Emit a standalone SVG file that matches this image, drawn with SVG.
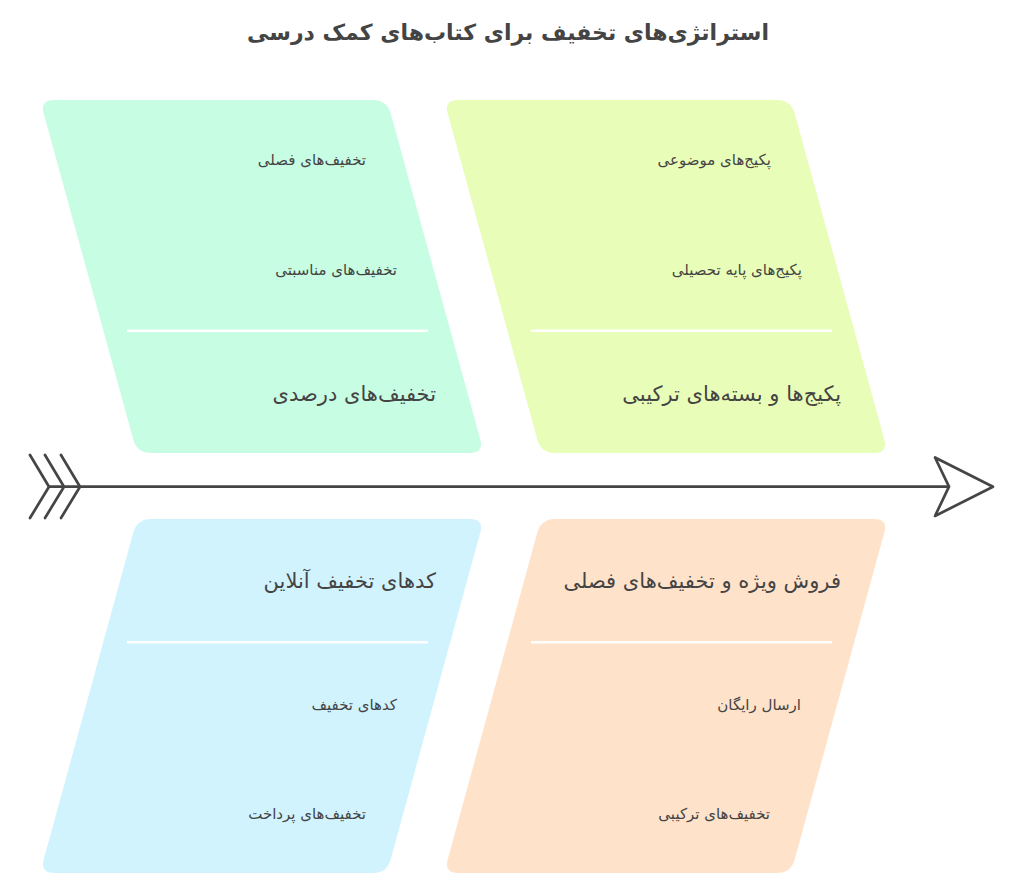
<svg xmlns="http://www.w3.org/2000/svg" width="1024" height="883" viewBox="0 0 1024 883">
<style>
.t{font-family:"DejaVu Sans",sans-serif;fill:#444;text-anchor:end}
.s{font-size:15px}
.m{font-size:21px}
.title{font-family:"DejaVu Sans",sans-serif;fill:#444;font-size:22px;font-weight:bold;text-anchor:middle}
.div{stroke:#fff;stroke-width:2.5}
.sp{stroke:#454545;stroke-width:2.7;fill:none;stroke-linecap:round;stroke-linejoin:round}
</style>
<defs>
<path id="up" d="M54,100 L373,100 Q387,100 390.7,113.5 L480.3,439.5 Q484,453 470,453 L151,453 Q137,453 133.3,439.5 L43.7,113.5 Q40,100 54,100 Z"/>
<path id="dn" d="M151,519 L470,519 Q484,519 480.3,532.5 L390.7,859.5 Q387,873 373,873 L54,873 Q40,873 43.7,859.5 L133.3,532.5 Q137,519 151,519 Z"/>
</defs>
<text class="title" x="508" y="40">استراتژی‌های تخفیف برای کتاب‌های کمک درسی</text>
<g id="connectors">
<line class="sp" x1="49" y1="486.7" x2="949" y2="486.7"/>
<polyline class="sp" points="30,455 49,486.7 30,518"/>
<polyline class="sp" points="45,455 64,486.7 45,518"/>
<polyline class="sp" points="61,455 80,486.7 61,518"/>
<polygon class="sp" style="fill:#fff" points="935,457.5 949,486.7 935,516 993,486.7"/>
</g>
<g id="node-percent">
<use href="#up" fill="#c7fde2"/>
<line class="div" x1="127" y1="330.7" x2="428" y2="330.7"/>
<text class="t s" x="366" y="165">تخفیف‌های فصلی</text>
<text class="t s" x="397" y="275">تخفیف‌های مناسبتی</text>
<text class="t m" x="436" y="401">تخفیف‌های درصدی</text>
</g>
<g id="node-packages">
<use href="#up" x="404" fill="#e8fdb8"/>
<line class="div" x1="531" y1="330.7" x2="832" y2="330.7"/>
<text class="t s" x="771" y="165">پکیج‌های موضوعی</text>
<text class="t s" x="802" y="275">پکیج‌های پایه تحصیلی</text>
<text class="t m" x="841" y="401">پکیج‌ها و بسته‌های ترکیبی</text>
</g>
<g id="node-online">
<use href="#dn" fill="#d1f3fe"/>
<line class="div" x1="127" y1="642.3" x2="428" y2="642.3"/>
<text class="t m" x="436" y="588">کدهای تخفیف آنلاین</text>
<text class="t s" x="397" y="710">کدهای تخفیف</text>
<text class="t s" x="366" y="819">تخفیف‌های پرداخت</text>
</g>
<g id="node-sale">
<use href="#dn" x="404" fill="#ffe2ca"/>
<line class="div" x1="531" y1="642.3" x2="832" y2="642.3"/>
<text class="t m" x="841" y="588">فروش ویژه و تخفیف‌های فصلی</text>
<text class="t s" x="801" y="710">ارسال رایگان</text>
<text class="t s" x="770" y="819">تخفیف‌های ترکیبی</text>
</g>
</svg>
